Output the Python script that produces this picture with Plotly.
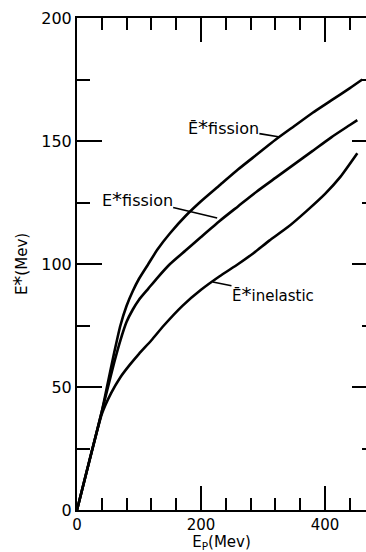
import plotly.graph_objects as go

# Data
e_top = [0, 20, 40, 50, 60, 70, 80, 90, 100, 115, 130, 150, 175, 200, 230, 260, 290, 320, 350, 380, 410, 440, 460]
v_top = [0, 20, 40, 52, 64, 75, 83, 89, 94, 100, 106, 112.5, 119.5, 125.5, 132, 138.5, 144.5, 150.5, 156, 161.5, 166.5, 171.5, 175]

e_mid = [0, 20, 40, 50, 60, 70, 80, 90, 100, 115, 130, 150, 175, 200, 230, 260, 290, 320, 350, 380, 410, 440, 452]
v_mid = [0, 20, 40, 50, 60, 69, 76.5, 81.5, 85.5, 90, 94.5, 100, 105.5, 111, 117.5, 123.5, 129.5, 135, 140.5, 146, 151.5, 156.5, 158.5]

e_bot = [0, 20, 40, 55, 70, 85, 100, 120, 140, 170, 200, 230, 260, 285, 310, 340, 370, 400, 425, 452]
v_bot = [0, 20, 39, 47.5, 54, 59, 63.5, 69, 75, 83, 89.5, 95, 100, 104.5, 109.5, 115, 121.5, 128.5, 135.5, 145]

x_ticks = [0, 200, 400]
y_ticks = [0, 50, 100, 150, 200]

FONT = "DejaVu Sans"

fig = go.Figure()
for ex, vy in [(e_top, v_top), (e_mid, v_mid), (e_bot, v_bot)]:
    fig.add_trace(go.Scatter(x=ex, y=vy, mode="lines",
                             line=dict(color="black", width=2.6, shape="spline", smoothing=0.5),
                             showlegend=False, hoverinfo="skip"))

# invisible trace for the right-hand tick axis
fig.add_trace(go.Scatter(x=[0], y=[0], yaxis="y2", mode="markers", marker=dict(opacity=0),
                         showlegend=False, hoverinfo="skip"))

ann_font = dict(family=FONT, size=15, color="black")
STAR = "<span style='font-size:20px'>*</span>"
labels = [
    ("Ē" + STAR + "fission", 327, 151.6, 236, 155.5, 16),
    ("E" + STAR + "fission", 226, 118.7, 97, 126.4, 16),
    ("Ē" + STAR + "inelastic", 219, 92.7, 316, 87.8, 15),
]
for txt, x, y, ax, ay, fs in labels:
    fig.add_annotation(text=txt, x=x, y=y, ax=ax, ay=ay, xref="x", yref="y", axref="x", ayref="y",
                       showarrow=True, arrowhead=0, arrowwidth=1.6, arrowcolor="black",
                       font=dict(family=FONT, size=fs, color="black"),
                       borderpad=0, standoff=0)

fig.update_layout(
    width=366, height=552,
    margin=dict(l=77, r=0, t=18, b=42),
    paper_bgcolor="white", plot_bgcolor="white",
    font=dict(family=FONT, size=16, color="black"),
    xaxis=dict(range=[0, 466], tickvals=x_ticks, ticktext=[str(v) for v in x_ticks],
               ticks="inside", ticklen=24, tickwidth=2, tickcolor="black",
               minor=dict(dtick=40, tick0=0, ticks="inside", ticklen=12, tickwidth=2, tickcolor="black"),
               showline=True, linewidth=2, linecolor="black", mirror="ticks",
               showgrid=False, zeroline=False,
               title=dict(text="E<sub>P</sub>(Mev)", font=dict(family=FONT, size=15), standoff=1),
               tickfont=dict(family=FONT, size=15)),
    yaxis=dict(range=[0, 200], tickvals=y_ticks, ticktext=[str(v) for v in y_ticks],
               ticks="inside", ticklen=25, tickwidth=2, tickcolor="black",
               minor=dict(dtick=25, tick0=0, ticks="inside", ticklen=13, tickwidth=2, tickcolor="black"),
               showline=True, linewidth=2, linecolor="black", mirror=False,
               showgrid=False, zeroline=False,
               title=dict(text="E" + STAR + "(Mev)", font=dict(family=FONT, size=15), standoff=10),
               tickfont=dict(family=FONT, size=16)),
    yaxis2=dict(range=[0, 200], overlaying="y", side="right", anchor="x",
                tickvals=y_ticks, showticklabels=False,
                ticks="inside", ticklen=14, tickwidth=2, tickcolor="black",
                minor=dict(dtick=25, tick0=0, ticks="inside", ticklen=4, tickwidth=2, tickcolor="black"),
                showline=False, showgrid=False, zeroline=False),
)

fig.write_html("out.html")
